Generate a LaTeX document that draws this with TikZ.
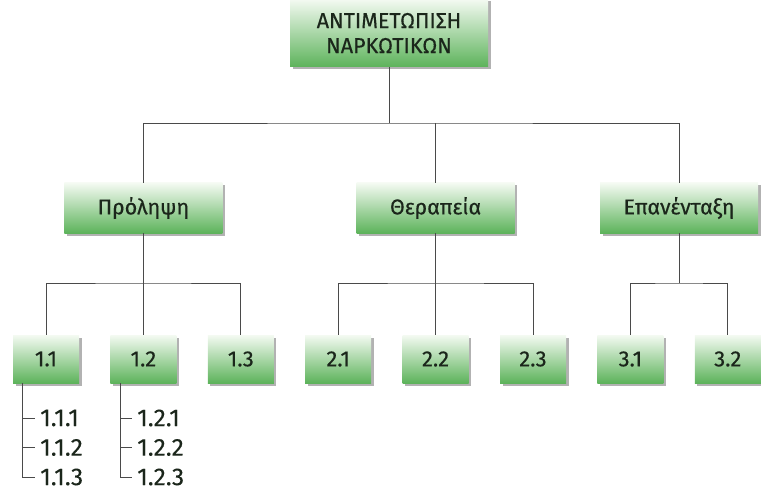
\documentclass[tikz,border=0pt]{standalone}
\usepackage{fontspec}
\setmainfont{Fira Sans}[FakeBold=0.4]
\newfontfamily\leaffont{Fira Sans}[FakeBold=0.15]
\usetikzlibrary{positioning, shadows}

\definecolor{boxgreen}{HTML}{5DB35B}
\definecolor{boxtop}{HTML}{F4FAF2}
\definecolor{boxtext}{HTML}{1B261B}
\definecolor{linegray}{HTML}{4A4A4A}

\begin{document}
\begin{tikzpicture}[x=1pt, y=-1pt,
    box/.style={top color=boxtop, bottom color=boxgreen, text=boxtext, inner sep=0pt, align=center,
        drop shadow={shadow xshift=2.5pt, shadow yshift=-2.5pt, opacity=0.3, fill=black}},
    bigbox/.style={box, minimum width=198pt, minimum height=68pt, font=\fontsize{21.5}{25}\selectfont},
    midbox/.style={box, minimum width=158pt, minimum height=50pt, font=\fontsize{21.5}{25}\selectfont},
    smallbox/.style={box, minimum width=66pt, minimum height=48pt, font=\fontsize{22}{25}\selectfont},
    leaf/.style={anchor=west, inner ysep=0pt, inner xsep=5pt, text=boxtext, font=\leaffont\fontsize{24.5}{28}\selectfont},
    link/.style={draw=linegray, line width=0.9pt}]

\useasboundingbox (0,0) rectangle (761,492);

% root
\node[bigbox] (root) at (389,33) {ΑΝΤΙΜΕΤΩΠΙΣΗ\\ΝΑΡΚΩΤΙΚΩΝ};

% second level
\node[midbox] (p) at (143.4,208) {Πρόληψη};
\node[midbox] (t) at (435.6,208) {Θεραπεία};
\node[midbox] (e) at (679.1,208) {Επανένταξη};

% third level
\node[smallbox] (p-1) at (46,359) {1.1};
\node[smallbox] (p-2) at (143.4,359) {1.2};
\node[smallbox] (p-3) at (240.8,359) {1.3};
\node[smallbox] (t-1) at (338.2,359) {2.1};
\node[smallbox] (t-2) at (435.6,359) {2.2};
\node[smallbox] (t-3) at (533,359) {2.3};
\node[smallbox] (e-1) at (630.4,359) {3.1};
\node[smallbox] (e-2) at (727.8,359) {3.2};

% buses
\coordinate (root-bus) at (389,123);
\coordinate (p-bus) at (143.4,283);
\coordinate (t-bus) at (435.6,283);
\coordinate (e-bus) at (679.1,283);

\draw[link] (root.south) -- (root-bus);
\draw[link] (p.north) |- (root-bus) -| (e.north);
\draw[link] (t.north) -- (t.north|-root-bus);

\draw[link] (p-1.north) |- (p-bus) -| (p-3.north);
\draw[link] (p.south) -- (p-2.north);
\draw[link] (t-1.north) |- (t-bus) -| (t-3.north);
\draw[link] (t.south) -- (t-2.north);
\draw[link] (e-1.north) |- (e-bus) -| (e-2.north);
\draw[link] (e.south) -- (e-bus);

% leaves
\node[leaf] (p-1-1) at (35,418) {1.1.1};
\node[leaf] (p-1-2) at (35,447.5) {1.1.2};
\node[leaf] (p-1-3) at (35,477) {1.1.3};
\node[leaf] (p-2-1) at (132,418) {1.2.1};
\node[leaf] (p-2-2) at (132,447.5) {1.2.2};
\node[leaf] (p-2-3) at (132,477) {1.2.3};

\coordinate (p-1-s) at ([xshift=10pt]p-1.south west);
\coordinate (p-2-s) at ([xshift=10pt]p-2.south west);

\draw[link] (p-1-s) |- (p-1-3.west);
\draw[link] (p-1-s|-p-1-1.west) -- (p-1-1.west);
\draw[link] (p-1-s|-p-1-2.west) -- (p-1-2.west);
\draw[link] (p-2-s) |- (p-2-3.west);
\draw[link] (p-2-s|-p-2-1.west) -- (p-2-1.west);
\draw[link] (p-2-s|-p-2-2.west) -- (p-2-2.west);

\end{tikzpicture}
\end{document}
